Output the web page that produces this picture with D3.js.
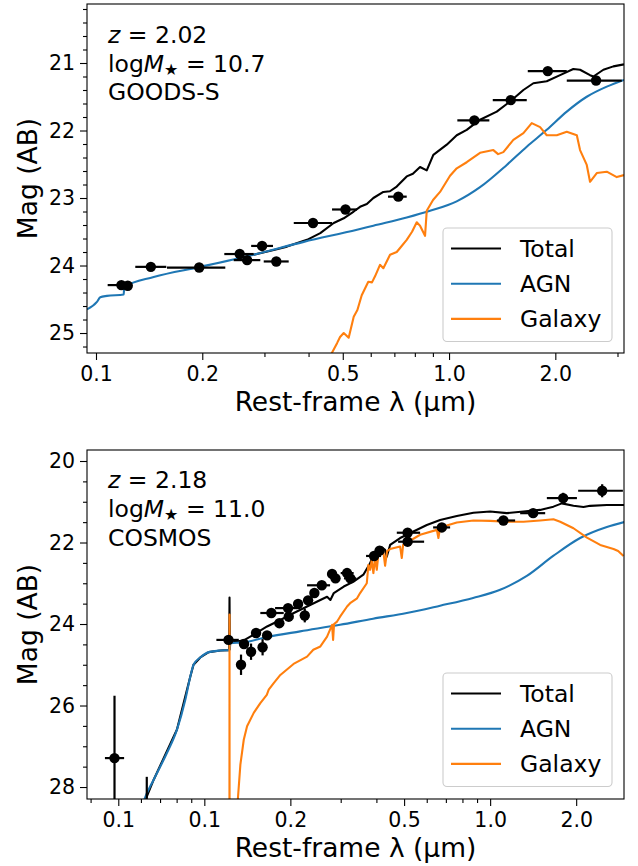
<!DOCTYPE html>
<html>
<head>
<meta charset="utf-8">
<script src="https://cdn.jsdelivr.net/npm/d3@7"></script>
<style>
  body { margin: 0; background: #fff; }
  text { font-family: "DejaVu Sans", sans-serif; fill: #000; }
</style>
</head>
<body>
<svg id="chart" width="638" height="866"></svg>
<script>
// ---------------- GOODS-S object (z = 2.02) ----------------
const gsInfo = { z: "2.02", logM: "10.7", field: "GOODS-S" };

// photometry: rest-frame wavelength (µm), filter edges, AB mag and error
const gsPhotLam = [0.1180, 0.1230, 0.1430, 0.1960, 0.2553, 0.2679, 0.2954, 0.3241, 0.4118, 0.5090, 0.7184, 1.1795, 1.4953, 1.904, 2.609];
const gsPhotLo  = [0.1079, 0.1154, 0.1292, 0.1589, 0.2309, 0.2455, 0.2751, 0.2986, 0.3632, 0.4662, 0.6716, 1.0556, 1.3299, 1.671, 2.155];
const gsPhotHi  = [0.1224, 0.1265, 0.1582, 0.2324, 0.2797, 0.2920, 0.3172, 0.3514, 0.4662, 0.5487, 0.7587, 1.3006, 1.660, 2.155, 3.085];
const gsPhotMag = [24.29, 24.30, 24.02, 24.03, 23.83, 23.92, 23.71, 23.94, 23.37, 23.17, 22.98, 21.85, 21.55, 21.12, 21.26];
const gsPhotErr = [0.03, 0.03, 0.03, 0.03, 0.03, 0.03, 0.03, 0.03, 0.03, 0.03, 0.03, 0.03, 0.03, 0.03, 0.03];

// model components
const gsTotalLam = [0.2797, 0.3187, 0.3475, 0.3960, 0.4318, 0.4713, 0.5031, 0.5370, 0.5597, 0.5850, 0.6105, 0.6515, 0.6800, 0.7109, 0.7587, 0.7900, 0.8276, 0.8646, 0.9026, 0.9851, 1.0515, 1.1222, 1.224, 1.365, 1.489, 1.624, 1.733, 1.891, 2.063, 2.249, 2.350, 2.508, 2.564, 2.736, 2.920, 3.13];
const gsTotalMag = [23.84, 23.77, 23.72, 23.62, 23.52, 23.37, 23.30, 23.20, 23.13, 23.09, 23.00, 22.91, 22.90, 22.83, 22.68, 22.64, 22.54, 22.59, 22.36, 22.21, 22.07, 21.99, 21.84, 21.72, 21.57, 21.40, 21.30, 21.27, 21.18, 21.09, 21.10, 21.18, 21.20, 21.10, 21.05, 21.02];

const gsAgnLam = [0.0943, 0.1006, 0.1028, 0.1074, 0.1198, 0.1202, 0.1457, 0.1975, 0.2797, 0.3877, 0.5487, 0.6105, 0.7587, 0.8835, 1.051, 1.224, 1.457, 1.660, 1.891, 2.155, 2.455, 2.797, 3.13];
const gsAgnMag = [24.65, 24.54, 24.47, 24.45, 24.43, 24.32, 24.17, 24.02, 23.84, 23.65, 23.47, 23.41, 23.29, 23.19, 23.05, 22.84, 22.51, 22.24, 21.99, 21.72, 21.50, 21.35, 21.25];

const gsGalLam = [0.4571, 0.4652, 0.4817, 0.4912, 0.5031, 0.5197, 0.5370, 0.5500, 0.5658, 0.5906, 0.6050, 0.6171, 0.6374, 0.6515, 0.6806, 0.7109, 0.7265, 0.7587, 0.7856, 0.8100, 0.8276, 0.8551, 0.8646, 0.9009, 0.9430, 1.0065, 1.0515, 1.1222, 1.224, 1.335, 1.377, 1.425, 1.521, 1.624, 1.715, 1.811, 1.891, 2.019, 2.155, 2.301, 2.350, 2.455, 2.508, 2.621, 2.797, 2.986, 3.13];
const gsGalMag = [25.40, 25.30, 25.15, 25.06, 25.00, 25.07, 24.76, 24.66, 24.44, 24.24, 24.25, 24.16, 23.99, 24.04, 23.84, 23.80, 23.74, 23.62, 23.50, 23.36, 23.41, 23.56, 23.19, 23.03, 22.91, 22.67, 22.56, 22.47, 22.33, 22.29, 22.35, 22.32, 22.14, 22.04, 21.89, 21.95, 22.07, 22.07, 22.02, 22.07, 22.29, 22.51, 22.76, 22.63, 22.61, 22.69, 22.66];

const gsXTicks = [0.1, 0.2, 0.5, 1.0, 2.0];
const gsXTickLabels = ["0.1", "0.2", "0.5", "1.0", "2.0"];
const gsXMinor = [0.3, 0.4, 0.6, 0.7, 0.8, 0.9, 3.0];
const gsYTicks = [21, 22, 23, 24, 25];
const gsYTickLabels = ["21", "22", "23", "24", "25"];

// ---------------- COSMOS object (z = 2.18) ----------------
const cosInfo = { z: "2.18", logM: "11.0", field: "COSMOS" };

const cosPhotLam = [0.0485, 0.0629, 0.1215, 0.1377, 0.1344, 0.1457, 0.1517, 0.1599, 0.1658, 0.1716, 0.1830, 0.1963, 0.1974, 0.2128, 0.2246, 0.2307, 0.2427, 0.2576, 0.2799, 0.2877, 0.3158, 0.3243, 0.3926, 0.4104, 0.5143, 0.5143, 0.6776, 1.113, 1.414, 1.801, 2.466];
const cosPhotLo  = [0.0449, 0.0629, 0.1102, 0.1336, 0.1304, 0.1413, 0.1471, 0.1551, 0.1608, 0.1570, 0.1775, 0.1768, 0.1915, 0.2064, 0.2179, 0.2238, 0.2354, 0.2288, 0.2715, 0.2791, 0.3000, 0.3080, 0.3680, 0.3950, 0.4714, 0.4764, 0.6317, 1.0556, 1.2735, 1.579, 2.032];
const cosPhotHi  = [0.0524, 0.0629, 0.1320, 0.1418, 0.1384, 0.1501, 0.1563, 0.1647, 0.1708, 0.1896, 0.1885, 0.2111, 0.2033, 0.2192, 0.2313, 0.2376, 0.2500, 0.2754, 0.2883, 0.2963, 0.3330, 0.3400, 0.4153, 0.4250, 0.5689, 0.5875, 0.7244, 1.223, 1.558, 2.012, 2.914];
const cosPhotMag = [27.29, 29.00, 24.39, 24.49, 25.00, 24.68, 24.22, 24.57, 24.28, 23.73, 23.98, 23.61, 23.82, 23.51, 23.79, 23.42, 23.24, 23.05, 22.77, 22.88, 22.75, 22.88, 22.33, 22.20, 21.76, 21.98, 21.63, 21.46, 21.28, 20.91, 20.73];
const cosPhotErr = [1.53, 1.25, 0.05, 0.05, 0.25, 0.20, 0.05, 0.20, 0.05, 0.05, 0.08, 0.05, 0.08, 0.05, 0.17, 0.05, 0.05, 0.05, 0.05, 0.05, 0.05, 0.05, 0.05, 0.05, 0.03, 0.03, 0.03, 0.03, 0.03, 0.13, 0.16];

const cosTotalLam = [0.0599, 0.0665, 0.08022, 0.08933, 0.09166, 0.09683, 0.1036, 0.1138, 0.1222, 0.1225, 0.1228, 0.1232, 0.1374, 0.1489, 0.1658, 0.1845, 0.2056, 0.2288, 0.2547, 0.2688, 0.2761, 0.2838, 0.3075, 0.3328, 0.3601, 0.3802, 0.3904, 0.4064, 0.4177, 0.4290, 0.4348, 0.4467, 0.4842, 0.5389, 0.6004, 0.6683, 0.7646, 0.874, 1.0, 1.144, 1.308, 1.496, 1.665, 1.782, 1.957, 2.121, 2.239, 2.561, 2.944];
const cosTotalMag = [28.60, 27.82, 26.59, 25.29, 25.00, 24.82, 24.69, 24.65, 24.64, 23.35, 24.62, 24.46, 24.40, 24.26, 24.06, 23.90, 23.73, 23.57, 23.41, 23.33, 23.41, 23.24, 23.08, 22.96, 22.79, 22.51, 22.30, 22.18, 22.12, 22.18, 22.35, 22.06, 21.89, 21.73, 21.57, 21.45, 21.35, 21.27, 21.24, 21.28, 21.24, 21.20, 21.12, 21.04, 21.10, 21.13, 21.10, 21.08, 21.08];

const cosAgnLam = [0.0599, 0.06166, 0.0665, 0.07403, 0.08022, 0.08579, 0.08933, 0.09166, 0.09683, 0.1036, 0.1138, 0.1225, 0.1232, 0.1374, 0.1658, 0.2163, 0.2985, 0.3895, 0.511, 0.6683, 0.8719, 1.084, 1.344, 1.662, 2.065, 2.561, 2.944];
const cosAgnMag = [28.60, 28.31, 27.82, 27.16, 26.59, 25.86, 25.29, 25.00, 24.82, 24.69, 24.65, 24.64, 24.47, 24.45, 24.32, 24.18, 24.02, 23.87, 23.73, 23.55, 23.36, 23.16, 22.82, 22.33, 21.89, 21.62, 21.50];

const cosGalLam = [0.1100, 0.1224, 0.1225, 0.1226, 0.1296, 0.1312, 0.1337, 0.1374, 0.1411, 0.1489, 0.1570, 0.1654, 0.1680, 0.1749, 0.1845, 0.2052, 0.2288, 0.2406, 0.2547, 0.2688, 0.2799, 0.2822, 0.2844, 0.2914, 0.2985, 0.3158, 0.3236, 0.3423, 0.3508, 0.3702, 0.3750, 0.3802, 0.3853, 0.3904, 0.3958, 0.4012, 0.4064, 0.4231, 0.4290, 0.4359, 0.4467, 0.4842, 0.4908, 0.4960, 0.5689, 0.6509, 0.6592, 0.6683, 0.7646, 0.874, 1.0, 1.144, 1.308, 1.496, 1.665, 1.758, 1.957, 2.181, 2.427, 2.702, 2.805, 2.929];
const cosGalMag = [32.0, 32.0, 23.77, 32.0, 28.80, 28.24, 27.45, 26.84, 26.51, 26.18, 25.94, 25.74, 25.61, 25.45, 25.25, 24.98, 24.80, 24.63, 24.55, 24.31, 24.02, 24.39, 24.00, 23.94, 23.82, 23.57, 23.49, 23.37, 23.24, 23.00, 22.55, 22.67, 22.43, 22.75, 22.38, 22.67, 22.30, 22.23, 22.57, 22.21, 22.16, 22.10, 22.38, 22.06, 21.81, 21.69, 21.89, 21.63, 21.51, 21.46, 21.47, 21.49, 21.49, 21.46, 21.43, 21.49, 21.65, 21.88, 22.06, 22.16, 22.21, 22.33];

const cosXTicks = [0.05, 0.1, 0.2, 0.5, 1.0, 2.0];
const cosXTickLabels = ["0.1", "0.1", "0.2", "0.5", "1.0", "2.0"];
const cosXMinor = [0.04, 0.06, 0.07, 0.08, 0.09, 0.3, 0.4, 0.6, 0.7, 0.8, 0.9];
const cosYTicks = [20, 22, 24, 26, 28];
const cosYTickLabels = ["20", "22", "24", "26", "28"];

const legendLabels = ["Total", "AGN", "Galaxy"];
const seriesColors = { total: "#000000", agn: "#1f77b4", galaxy: "#ff7f0e" };

// ---------------- drawing ----------------
const svg = d3.select("#chart");
const zip = (a, b) => a.map((v, i) => [v, b[i]]);

function drawPanel(p) {
  const x = d3.scaleLog().domain(p.xDomain).range([p.left, p.right]);
  const y = d3.scaleLinear().domain(p.yDomain).range([p.top, p.bottom]);
  const g = svg.append("g");

  const clipId = "clip-" + p.id;
  svg.append("defs").append("clipPath").attr("id", clipId)
    .append("rect")
    .attr("x", p.left).attr("y", p.top)
    .attr("width", p.right - p.left).attr("height", p.bottom - p.top);

  const plot = g.append("g").attr("clip-path", `url(#${clipId})`);

  const jagged = d3.line().x(d => x(d[0])).y(d => y(d[1]));
  const smooth = d3.line().x(d => x(d[0])).y(d => y(d[1])).curve(d3.curveMonotoneX);

  const curves = [
    { data: zip(p.totalLam, p.totalMag), color: seriesColors.total, gen: jagged },
    { data: zip(p.agnLam, p.agnMag), color: seriesColors.agn, gen: smooth },
    { data: zip(p.galLam, p.galMag), color: seriesColors.galaxy, gen: jagged }
  ];
  curves.forEach(c => {
    plot.append("path")
      .attr("d", c.gen(c.data))
      .attr("fill", "none")
      .attr("stroke", c.color)
      .attr("stroke-width", 2.1)
      .attr("stroke-linejoin", "round");
  });

  // photometric points with error bars
  const pts = p.photLam.map((l, i) => ({
    lam: l, lo: p.photLo[i], hi: p.photHi[i], mag: p.photMag[i], err: p.photErr[i]
  }));
  const pg = plot.append("g");
  pts.forEach(d => {
    pg.append("line")
      .attr("x1", x(d.lo)).attr("x2", x(d.hi))
      .attr("y1", y(d.mag)).attr("y2", y(d.mag))
      .attr("stroke", "#000").attr("stroke-width", 2.2);
    pg.append("line")
      .attr("x1", x(d.lam)).attr("x2", x(d.lam))
      .attr("y1", y(d.mag - d.err)).attr("y2", y(d.mag + d.err))
      .attr("stroke", "#000").attr("stroke-width", 2.2);
    pg.append("circle")
      .attr("cx", x(d.lam)).attr("cy", y(d.mag)).attr("r", 5.2)
      .attr("fill", "#000");
  });

  // axes
  const xAxis = g.append("g").attr("transform", `translate(0,${p.bottom})`)
    .call(d3.axisBottom(x).tickValues(p.xTicks)
      .tickFormat(d => p.xTickLabels[p.xTicks.indexOf(d)])
      .tickSize(7).tickSizeOuter(0).tickPadding(6.5));
  const xMinor = g.append("g").attr("transform", `translate(0,${p.bottom})`)
    .call(d3.axisBottom(x).tickValues(p.xMinor).tickFormat("").tickSize(4).tickSizeOuter(0));
  const yAxis = g.append("g").attr("transform", `translate(${p.left},0)`)
    .call(d3.axisLeft(y).tickValues(p.yTicks)
      .tickFormat(d => p.yTickLabels[p.yTicks.indexOf(d)])
      .tickSize(7).tickSizeOuter(0).tickPadding(5));
  const yMinor = g.append("g").attr("transform", `translate(${p.left},0)`)
    .call(d3.axisLeft(y).tickValues(p.yMinor).tickFormat("").tickSize(4).tickSizeOuter(0));

  [xAxis, xMinor, yAxis, yMinor].forEach(a => {
    a.select(".domain").remove();
    a.selectAll(".tick line").attr("stroke", "#000").attr("stroke-width", 1.1);
    a.selectAll(".tick text")
      .attr("font-family", "DejaVu Sans, sans-serif")
      .attr("font-size", 20.5).attr("fill", "#000");
  });

  // frame
  g.append("rect")
    .attr("x", p.left).attr("y", p.top)
    .attr("width", p.right - p.left).attr("height", p.bottom - p.top)
    .attr("fill", "none").attr("stroke", "#000").attr("stroke-width", 1.1);

  // axis titles
  g.append("text")
    .attr("x", (p.left + p.right) / 2).attr("y", p.bottom + 58)
    .attr("text-anchor", "middle").attr("font-size", 26.5)
    .text("Rest-frame λ (µm)");
  g.append("text")
    .attr("transform", `translate(37,${(p.top + p.bottom) / 2}) rotate(-90)`)
    .attr("text-anchor", "middle").attr("font-size", 26.5)
    .text("Mag (AB)");

  // object annotation
  const ax = 108, fs = 23.5;
  const t1 = g.append("text").attr("x", ax).attr("y", p.top + p.annY[0]).attr("font-size", fs);
  t1.append("tspan").attr("font-style", "italic").text("z");
  t1.append("tspan").text(" = " + p.info.z);
  const t2 = g.append("text").attr("x", ax).attr("y", p.top + p.annY[1]).attr("font-size", fs);
  t2.append("tspan").text("log");
  t2.append("tspan").attr("font-style", "italic").text("M");
  t2.append("tspan").attr("font-size", fs * 0.68).attr("dy", 3).text("★");
  t2.append("tspan").attr("dy", -3).text(" = " + p.info.logM);
  g.append("text").attr("x", ax).attr("y", p.top + p.annY[2]).attr("font-size", fs)
    .text(p.info.field);

  // legend
  const lg = g.append("g");
  lg.append("rect")
    .attr("x", 443).attr("y", p.legTop)
    .attr("width", 169).attr("height", 113.5)
    .attr("rx", 4).attr("ry", 4)
    .attr("fill", "#fff").attr("fill-opacity", 0.8)
    .attr("stroke", "#cccccc").attr("stroke-width", 1.1);
  const legColors = [seriesColors.total, seriesColors.agn, seriesColors.galaxy];
  legendLabels.forEach((lab, i) => {
    const ly = p.legTop + 20.5 + i * 35.2;
    lg.append("line")
      .attr("x1", 451).attr("x2", 501).attr("y1", ly).attr("y2", ly)
      .attr("stroke", legColors[i]).attr("stroke-width", 2.1);
    lg.append("text")
      .attr("x", 520).attr("y", ly + 8.5)
      .attr("font-size", fs).text(lab);
  });
}

const gsYMinor = d3.range(20.2, 25.3, 0.2).filter(v => Math.abs(v - Math.round(v)) > 0.05);
const cosYMinor = d3.range(20.5, 28.3, 0.5).filter(v => Math.abs(v / 2 - Math.round(v / 2)) > 0.1);

drawPanel({
  id: "gs", left: 87, right: 624, top: 4, bottom: 353,
  xDomain: [0.0943, 3.13], yDomain: [20.126, 25.296],
  photLam: gsPhotLam, photLo: gsPhotLo, photHi: gsPhotHi, photMag: gsPhotMag, photErr: gsPhotErr,
  totalLam: gsTotalLam, totalMag: gsTotalMag,
  agnLam: gsAgnLam, agnMag: gsAgnMag,
  galLam: gsGalLam, galMag: gsGalMag,
  xTicks: gsXTicks, xTickLabels: gsXTickLabels, xMinor: gsXMinor,
  yTicks: gsYTicks, yTickLabels: gsYTickLabels, yMinor: gsYMinor,
  info: gsInfo, annY: [39, 68, 96], legTop: 228
});

drawPanel({
  id: "cos", left: 87, right: 624, top: 450, bottom: 799,
  xDomain: [0.03886, 2.94], yDomain: [19.73, 28.294],
  photLam: cosPhotLam, photLo: cosPhotLo, photHi: cosPhotHi, photMag: cosPhotMag, photErr: cosPhotErr,
  totalLam: cosTotalLam, totalMag: cosTotalMag,
  agnLam: cosAgnLam, agnMag: cosAgnMag,
  galLam: cosGalLam, galMag: cosGalMag,
  xTicks: cosXTicks, xTickLabels: cosXTickLabels, xMinor: cosXMinor,
  yTicks: cosYTicks, yTickLabels: cosYTickLabels, yMinor: cosYMinor,
  info: cosInfo, annY: [38, 67, 96], legTop: 673
});
</script>
</body>
</html>
